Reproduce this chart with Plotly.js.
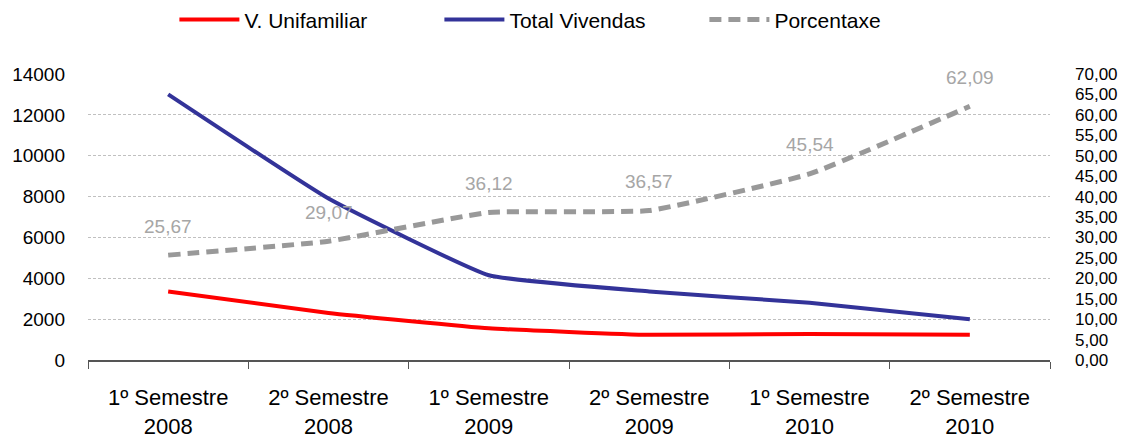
<!DOCTYPE html>
<html><head><meta charset="utf-8">
<script src="https://cdn.plot.ly/plotly-3.0.1.min.js"></script>
<style>html,body{margin:0;padding:0;background:#fff}#chart{width:1128px;height:441px}</style>
</head><body><div id="chart"></div>
<script>
const categories = ["1º Semestre<br>2008","2º Semestre<br>2008","1º Semestre<br>2009","2º Semestre<br>2009","1º Semestre<br>2010","2º Semestre<br>2010"];
const unifamiliar = [3350, 2300, 1550, 1230, 1270, 1230];
const totalVivendas = [13000, 7900, 4150, 3350, 2800, 2000];
const porcentaxe = [25.67, 29.07, 36.12, 36.57, 45.54, 62.09];
const leftTicks = [0, 2000, 4000, 6000, 8000, 10000, 12000, 14000];
const rightTicks = [0,5,10,15,20,25,30,35,40,45,50,55,60,65,70];
const fmt = v => v.toFixed(2).replace('.', ',');

const traces = [
  {x: categories, y: unifamiliar, name: 'V. Unifamiliar', type: 'scatter', mode: 'lines',
   line: {color: '#ff0000', width: 4, shape: 'spline', smoothing: 0.35}},
  {x: categories, y: totalVivendas, name: 'Total Vivendas', type: 'scatter', mode: 'lines',
   line: {color: '#333399', width: 4, shape: 'spline', smoothing: 0.35}},
  {x: categories, y: porcentaxe, name: 'Porcentaxe', type: 'scatter', mode: 'lines', yaxis: 'y2',
   line: {color: '#999999', width: 5, dash: '12px,7px', shape: 'spline', smoothing: 0.35}}
];
const annotations = porcentaxe.map((v, i) => ({
  x: categories[i], y: v, xref: 'x', yref: 'y2', text: fmt(v), showarrow: false,
  yshift: 29, font: {family: 'Liberation Sans, Arial, sans-serif', size: 19, color: '#a6a6a6'}
}));
const layout = {
  width: 1128, height: 441,
  margin: {l: 88, r: 78, t: 74, b: 81},
  paper_bgcolor: '#fff', plot_bgcolor: '#fff',
  font: {family: 'Liberation Sans, Arial, sans-serif', color: '#000'},
  showlegend: true,
  legend: {orientation: 'h', x: 0.507, xref: 'container', xanchor: 'center', y: 0.955, yref: 'container', yanchor: 'middle',
           font: {size: 21, color: '#000'}, itemwidth: 60, entrywidth: 190, entrywidthmode: 'pixels'},
  xaxis: {type: 'category', range: [-0.5, 5.5], tickson: 'boundaries', ticks: 'outside', ticklen: 7, tickcolor: '#555',
          showline: true, linecolor: '#555', linewidth: 1.5, showgrid: false, ticklabelstandoff: 17,
          tickfont: {size: 22, color: '#000'}, fixedrange: true},
  yaxis: {range: [0, 14000], tickvals: leftTicks, ticktext: leftTicks.map(String),
          showgrid: true, gridcolor: '#c0c0c0', griddash: '3px,2px', zeroline: false, showline: false,
          ticks: '', ticklabelstandoff: 22, tickfont: {size: 19, color: '#000'}},
  yaxis2: {range: [0, 70], overlaying: 'y', side: 'right', tickvals: rightTicks, ticktext: rightTicks.map(fmt),
           showgrid: false, zeroline: false, showline: false, ticks: '', ticklabelstandoff: 24,
           tickfont: {size: 17, color: '#000'}},
  annotations: annotations
};
Plotly.newPlot('chart', traces, layout, {displayModeBar: false, staticPlot: true});
</script></body></html>
